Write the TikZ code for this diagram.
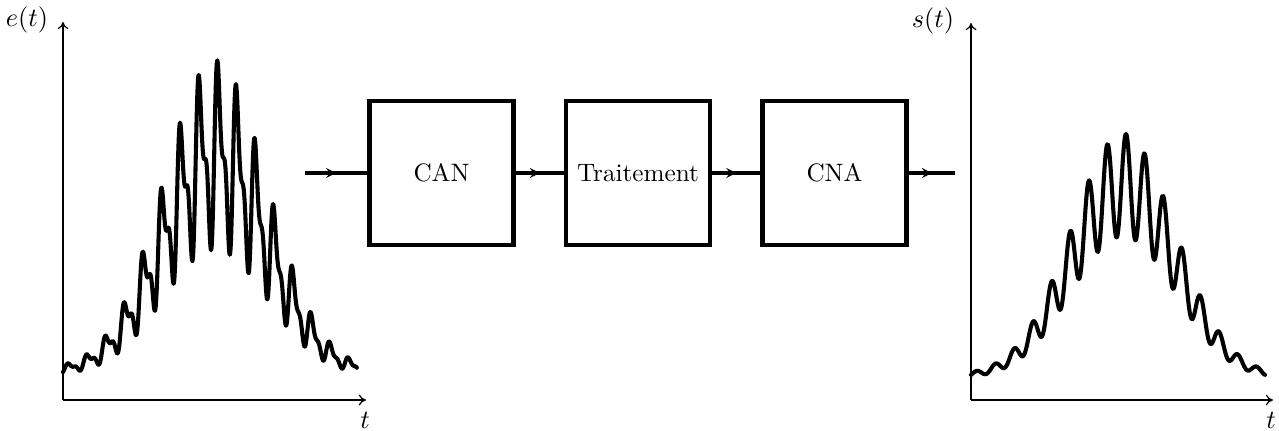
\documentclass[tikz,border=0pt]{standalone}
\usetikzlibrary{arrows.meta,decorations.markings}
\begin{document}
\begin{tikzpicture}[x=0.41667pt,y=-0.41667pt,
  every node/.style={font=\fontsize{10.5}{12.6}\selectfont},
  blockbox/.style={draw,line width=2pt,minimum width=60pt,minimum height=60pt,inner sep=0pt},
  link/.style={line width=1.3pt,
    decoration={markings,mark=at position 0.5 with {\arrow{Stealth[length=4.2pt,width=4.2pt,inset=1.6pt]}}},
    postaction={decorate}},
  axis/.style={line width=0.5pt,-{To[length=3pt,width=4.5pt]}},
  signal/.style={line width=1.7pt,line join=round,line cap=round},
  lbl/.style={inner sep=0pt}]
\useasboundingbox (0,0) rectangle (1279,430);
% left plot
\coordinate (o1) at (63,400);
\coordinate (y1) at (63,22);
\coordinate (x1) at (366,400);
\draw[axis] (o1) -- (y1);
\draw[axis] (o1) -- (x1);
\node[lbl] (elabel) at (27,20) {$e(t)$};
\node[lbl] (t1label) at (365,420) {$t$};
\draw[signal] plot[domain=-2.923:2.731,samples=900]
  ({215+52*\x},{372-(217*exp(-\x*\x/2)*(1+0.326*(sin(1001.07*\x+15.7)+0.5*sin(2*(1001.07*\x+15.7))))+2.3*(sin(1001.07*\x+15.7)+0.5*sin(2*(1001.07*\x+15.7))))});
% right plot
\coordinate (o2) at (971,400);
\coordinate (y2) at (971,23);
\coordinate (x2) at (1273,400);
\draw[axis] (o2) -- (y2);
\draw[axis] (o2) -- (x2);
\node[lbl] (slabel) at (933,21) {$s(t)$};
\node[lbl] (t2label) at (1271,420) {$t$};
\draw[signal] plot[domain=-2.923:2.731,samples=700]
  ({1123+52*\x},{377-(192*exp(-\x*\x/2)*(1+0.26*cos(1001.07*\x-57.75))+1.5*cos(1001.07*\x-57.75))});
% chain
\node[blockbox] (can) at (441.5,173) {CAN};
\node[blockbox] (trait) at (638,173) {Traitement};
\node[blockbox] (cna) at (834.5,173) {CNA};
\coordinate (in) at (305,173);
\coordinate (out) at (955,173);
\draw[link] (in) -- (can.west);
\draw[link] (can.east) -- (trait.west);
\draw[link] (trait.east) -- (cna.west);
\draw[link] (cna.east) -- (out);
\end{tikzpicture}
\end{document}
